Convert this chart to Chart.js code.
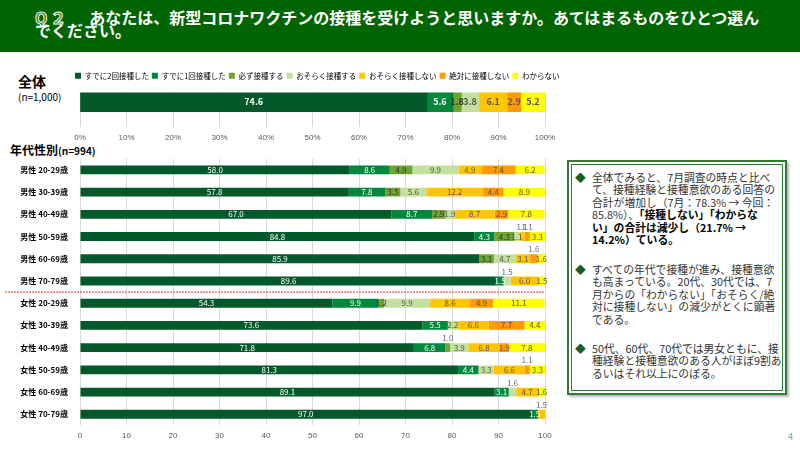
<!DOCTYPE html>
<html>
<head>
<meta charset="utf-8">
<script src="https://cdn.jsdelivr.net/npm/chart.js@4.4.1/dist/chart.umd.min.js"></script>
<style>
  body { margin: 0; width: 800px; height: 450px; position: relative; overflow: hidden; background: #fff;
         font-family: "Noto Sans CJK JP", sans-serif; }
  #head { position: absolute; left: 0; top: 0; width: 800px; height: 52px; background: #006400; }
  #title { position: absolute; left: 35px; top: 11px; color: #fff; font-size: 16px; font-weight: bold;
           line-height: 13px; white-space: nowrap; }
  #title .q { color: #006400; -webkit-text-stroke: 1px #fff; letter-spacing: 3px; margin-right: 20px; }
  .lbl { position: absolute; color: #000; font-weight: bold; white-space: nowrap; }
  #c1 { position: absolute; left: 0px; top: 69px; }
  #c2 { position: absolute; left: 0px; top: 150px; }
  #note { position: absolute; left: 567px; top: 160px; width: 216px; height: 231px;
          border: 2px solid #2e7d32; box-shadow: inset 0 0 0 2px #fff, inset 0 0 0 3px #2e7d32, 2px 2px 2px #bbb;
          color: #333; font-size: 10.8px; line-height: 12.4px; }
  .item { position: absolute; left: 23px; white-space: nowrap; }
  .item::before { content: "◆"; position: absolute; left: -17px; color: #1b5e20; }
  #page { position: absolute; left: 788px; top: 430px; font-size: 9px; color: #7f9fbf; }
</style>
</head>
<body>
<div id="head"></div>
<div id="title"><span class="q">Q２</span>あなたは、新型コロナワクチンの接種を受けようと思いますか。あてはまるものをひとつ選ん<br>でください。</div>

<div class="lbl" style="left:18px;top:71px;font-size:14px;">全体</div>
<div class="lbl" style="left:18px;top:89px;font-size:10px;font-weight:normal;">(n=1,000)</div>
<div class="lbl" style="left:10px;top:141px;font-size:12px;">年代性別<span style="font-size:10px;">(n=994)</span></div>

<canvas id="c1" width="590" height="80"></canvas>
<canvas id="c2" width="560" height="297"></canvas>

<div id="note">
  <div class="item" style="top:9px;">全体でみると、7月調査の時点と比べ<br>て、接種経験と接種意欲のある回答の<br>合計が増加し（7月：78.3% → 今回：<br>85.8%）、<b style="color:#000">「接種しない」「わからな<br>い」の合計は減少し（21.7% →<br>14.2%）ている。</b></div>
  <div class="item" style="top:101px;">すべての年代で接種が進み、接種意欲<br>も高まっている。20代、30代では、7<br>月からの「わからない」「おそらく/絶<br>対に接種しない」の減少がとくに顕著<br>である。</div>
  <div class="item" style="top:180px;">50代、60代、70代では男女ともに、接<br>種経験と接種意欲のある人がほぼ9割あ<br>るいはそれ以上にのぼる。</div>
</div>
<div id="page">4</div>

<script>
const responses = ['すでに2回接種した', 'すでに1回接種した', '必ず接種する', 'おそらく接種する',
                   'おそらく接種しない', '絶対に接種しない', 'わからない'];
const colors = ['#04592b', '#00883d', '#6fa52f', '#c3e09e', '#ffc600', '#ff9a00', '#ffff00'];

// 全体 (n=1,000)
const totalValues = [74.6, 5.6, 1.8, 3.8, 6.1, 2.9, 5.2];

// 年代性別 (n=994)
const groups = ['男性 20-29歳', '男性 30-39歳', '男性 40-49歳', '男性 50-59歳', '男性 60-69歳', '男性 70-79歳',
                '女性 20-29歳', '女性 30-39歳', '女性 40-49歳', '女性 50-59歳', '女性 60-69歳', '女性 70-79歳'];
const twice       = [58.0, 57.8, 67.0, 84.8, 85.9, 89.6, 54.3, 73.6, 71.8, 81.3, 89.1, 97.0];
const once        = [8.6, 7.8, 8.7, 4.3, 0, 1.5, 9.9, 5.5, 6.8, 4.4, 3.1, 1.5];
const surely      = [4.9, 3.3, 2.9, 4.3, 3.1, 0, 1.2, 0, 1.0, 0, 0, 0];
const probablyYes = [9.9, 5.6, 1.9, 1.1, 4.7, 1.5, 9.9, 2.2, 3.9, 3.3, 1.6, 0];
const probablyNo  = [4.9, 12.2, 8.7, 1.1, 3.1, 6.0, 8.6, 6.6, 6.8, 6.6, 4.7, 1.5];
const never       = [7.4, 4.4, 2.9, 1.1, 1.6, 0, 4.9, 7.7, 1.9, 1.1, 0, 0];
const unsure      = [6.2, 8.9, 7.8, 3.3, 1.6, 1.5, 11.1, 4.4, 7.8, 3.3, 1.6, 0];

const labelColors = ['#fff', '#fff', '#333', '#555', '#555', '#555', '#555'];

// value labels; small crowded segments get their label lifted above the bar
const barLabels = {
  id: 'barLabels',
  afterDatasetsDraw(chart, args, opts) {
    const ctx = chart.ctx;
    ctx.save();
    ctx.font = opts.font;
    ctx.textAlign = 'center';
    ctx.textBaseline = 'middle';
    chart.data.labels.forEach((lab, i) => {
      const items = [];
      chart.data.datasets.forEach((ds, d) => {
        const v = ds.data[i];
        if (!v) return;
        const bar = chart.getDatasetMeta(d).data[i];
        items.push({ v, d, x: (bar.x + bar.base) / 2, y: bar.y, h: bar.height });
      });
      let prevIn = null;
      items.forEach((it, k) => {
        const next = items[k + 1];
        const small = it.v < 1.8;
        const hitPrev = prevIn && it.x - prevIn.x < 12;
        const hitNext = next && next.v > it.v && next.x - it.x < 12;
        const txt = it.v.toFixed(1);
        if (small && (hitPrev || hitNext)) {
          ctx.fillStyle = '#5a6f8c';
          ctx.fillText(txt, it.x, it.y - it.h / 2 - 5);
        } else {
          ctx.fillStyle = labelColors[it.d];
          ctx.fillText(txt, it.x, it.y);
          prevIn = it;
        }
      });
    });
    ctx.restore();
  }
};

// extra space under the legend
const legendGap = {
  id: 'legendGap',
  beforeInit(chart) {
    const fit = chart.legend.fit;
    chart.legend.fit = function () {
      fit.call(this);
      this.height += 3;
    };
  }
};

// red dotted divider between 男性 and 女性
const divider = {
  id: 'divider',
  afterDraw(chart) {
    const y = (chart.scales.y.getPixelForValue(5) + chart.scales.y.getPixelForValue(6)) / 2;
    const ctx = chart.ctx;
    ctx.save();
    ctx.strokeStyle = '#e0302a';
    ctx.lineWidth = 1;
    ctx.setLineDash([2, 1]);
    ctx.beginPath();
    ctx.moveTo(5, y);
    ctx.lineTo(chart.chartArea.right, y);
    ctx.stroke();
    ctx.restore();
  }
};

const gridColor = '#d9d9d9';
const tickColor = '#595959';

new Chart(document.getElementById('c1'), {
  type: 'bar',
  data: {
    labels: ['全体', ''],
    datasets: responses.map((r, d) => ({
      label: r, data: [totalValues[d]], backgroundColor: colors[d], barThickness: 21
    }))
  },
  options: {
    indexAxis: 'y',
    responsive: false,
    animation: false,
    layout: { padding: { left: 72, right: 0, top: 0, bottom: 0 } },
    scales: {
      x: {
        stacked: true, min: 0, max: 100,
        grid: { color: gridColor, drawTicks: false },
        border: { display: false },
        ticks: { stepSize: 10, color: tickColor, font: { size: 8 }, padding: 6, callback: v => v + '%' }
      },
      y: {
        stacked: true,
        grid: { display: false }, border: { display: false }, ticks: { display: false },
        afterFit: s => { s.width = 8; }
      },
      y2: {
        type: 'category', position: 'right',
        grid: { display: false }, border: { display: false }, ticks: { display: false },
        afterFit: s => { s.width = 45; }
      }
    },
    plugins: {
      legend: {
        position: 'top', align: 'start',
        labels: { boxWidth: 6, boxHeight: 6, padding: 3, color: '#000', font: { size: 7.5, family: 'Noto Sans CJK JP' } }
      },
      tooltip: { enabled: false },
      barLabels: { font: 'bold 9px "Noto Sans CJK JP"' }
    }
  },
  plugins: [barLabels, legendGap]
});

const series2 = [twice, once, surely, probablyYes, probablyNo, never, unsure];

new Chart(document.getElementById('c2'), {
  type: 'bar',
  data: {
    labels: groups,
    datasets: responses.map((r, d) => ({
      label: r, data: series2[d], backgroundColor: colors[d],
      barPercentage: 0.4, categoryPercentage: 1
    }))
  },
  options: {
    indexAxis: 'y',
    responsive: false,
    animation: false,
    layout: { padding: { left: 2, right: 15, top: 3, bottom: 0 } },
    scales: {
      x: {
        stacked: true, min: 0, max: 100,
        grid: { color: gridColor, drawTicks: false },
        border: { display: false },
        ticks: { stepSize: 10, color: tickColor, font: { size: 8 }, padding: 6 }
      },
      y: {
        stacked: true,
        grid: { display: false },
        border: { display: false },
        ticks: { color: '#000', font: { size: 8, weight: 'bold', family: 'Noto Sans CJK JP' }, padding: 4 },
        afterFit: s => { s.width = 78; }
      }
    },
    plugins: {
      legend: { display: false },
      tooltip: { enabled: false },
      barLabels: { font: '8px "Noto Sans CJK JP"' }
    }
  },
  plugins: [barLabels, divider]
});
</script>
</body>
</html>
